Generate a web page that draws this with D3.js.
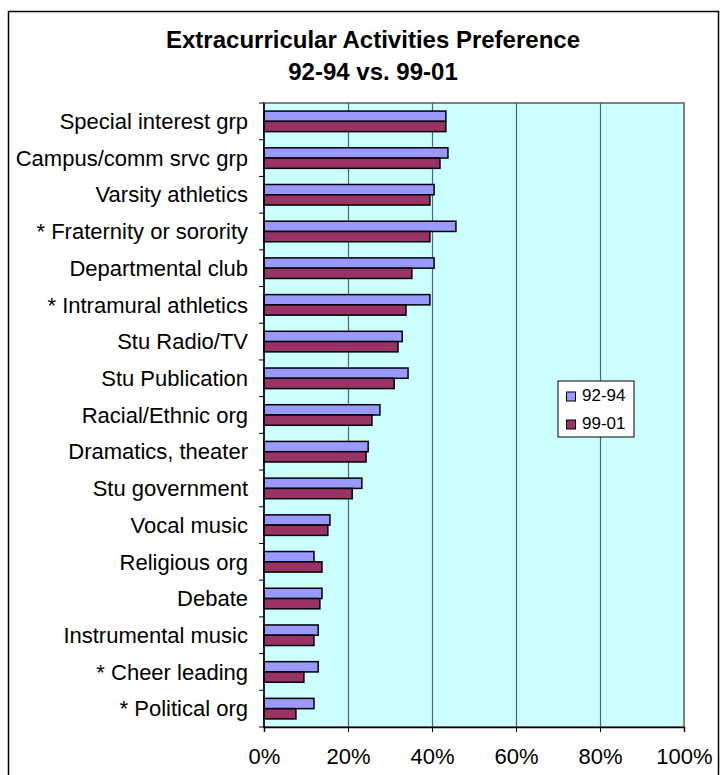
<!DOCTYPE html>
<html>
<head>
<meta charset="utf-8">
<script src="https://cdn.jsdelivr.net/npm/d3@7"></script>
<style>
  body { margin: 0; background: #fff; }
  svg text { font-family: "Liberation Sans", Arial, sans-serif; }
</style>
</head>
<body>
<div id="chart"></div>
<script>
const categories = [
  "Special interest grp", "Campus/comm srvc grp", "Varsity athletics",
  "* Fraternity or sorority", "Departmental club", "* Intramural athletics",
  "Stu Radio/TV", "Stu Publication", "Racial/Ethnic org", "Dramatics, theater",
  "Stu government", "Vocal music", "Religious org", "Debate",
  "Instrumental music", "* Cheer leading", "* Political org"
];
const series = ["92-94", "99-01"];
const v9294 = [43.3, 43.8, 40.5, 45.7, 40.5, 39.5, 32.9, 34.3, 27.6, 24.8, 23.3, 15.7, 11.9, 13.8, 12.9, 12.9, 11.9];
const v9901 = [43.3, 41.9, 39.5, 39.5, 35.2, 33.8, 31.9, 31.0, 25.7, 24.3, 21.0, 15.2, 13.8, 13.3, 11.9, 9.5, 7.6];
const xTicks = [0, 20, 40, 60, 80, 100];
const colors = ["#9999FF", "#993366"];

const W = 728, H = 775;
const pLeft = 264, pRight = 684, pTop = 103, pBottom = 727;

const svg = d3.select("#chart").append("svg")
  .attr("width", W).attr("height", H);

// outer frame
svg.append("rect")
  .attr("x", 8.5).attr("y", 11.5)
  .attr("width", 710).attr("height", 800)
  .attr("fill", "none").attr("stroke", "#000").attr("stroke-width", 1.5);

// title
svg.append("text").attr("x", 373).attr("y", 48)
  .attr("text-anchor", "middle").style("font-size", "24px").style("font-weight", "bold")
  .text("Extracurricular Activities Preference");
svg.append("text").attr("x", 373).attr("y", 80)
  .attr("text-anchor", "middle").style("font-size", "24px").style("font-weight", "bold")
  .text("92-94 vs. 99-01");

const x = d3.scaleLinear().domain([0, 100]).range([pLeft, pRight]);

const pad = 0.44;
const y = d3.scaleBand().domain(categories).range([pTop, pBottom])
  .paddingInner(pad).paddingOuter(pad / 2);
const ySub = d3.scaleBand().domain(series).range([0, y.bandwidth()]);

// plot background
svg.append("rect")
  .attr("x", pLeft).attr("y", pTop)
  .attr("width", pRight - pLeft).attr("height", pBottom - pTop)
  .attr("fill", "#CCFFFF").attr("stroke", "#808080").attr("stroke-width", 2);

// gridlines
svg.append("g")
  .attr("transform", `translate(0,${pBottom})`)
  .call(d3.axisBottom(x).tickValues(xTicks.slice(1, -1)).tickSize(-(pBottom - pTop)).tickFormat(""))
  .call(g => g.select(".domain").remove())
  .call(g => g.selectAll("line").attr("stroke", "#4d6666").attr("stroke-width", 1.2));

// bars
const rows = categories.map((c, i) => ({ cat: c, vals: [v9294[i], v9901[i]] }));
const grp = svg.append("g").selectAll("g").data(rows).join("g")
  .attr("transform", d => `translate(0,${y(d.cat)})`);
grp.selectAll("rect").data(d => d.vals.map((v, k) => ({ v, s: series[k], k })))
  .join("rect")
  .attr("x", x(0))
  .attr("y", d => ySub(d.s))
  .attr("width", d => x(d.v) - x(0))
  .attr("height", ySub.bandwidth())
  .attr("fill", d => colors[d.k])
  .attr("stroke", "#000").attr("stroke-width", 1.5);

// y axis with ticks at category boundaries
const step = y.step();
const bounds = categories.map(c => y(c) - step * pad / 2).concat([pBottom]);
const yAxis = svg.append("g");
yAxis.append("line").attr("x1", pLeft).attr("x2", pLeft).attr("y1", pTop).attr("y2", pBottom)
  .attr("stroke", "#000").attr("stroke-width", 1.5);
yAxis.selectAll("line.tk").data(bounds).join("line").attr("class", "tk")
  .attr("x1", pLeft - 5).attr("x2", pLeft).attr("y1", d => d).attr("y2", d => d)
  .attr("stroke", "#000").attr("stroke-width", 1);
yAxis.selectAll("text").data(categories).join("text")
  .attr("x", 248).attr("y", d => y(d) + y.bandwidth() / 2)
  .attr("dy", "0.35em").attr("text-anchor", "end")
  .style("font-size", "22px").attr("fill", "#000")
  .text(d => d);

// x axis
svg.append("g")
  .attr("transform", `translate(0,${pBottom})`)
  .call(d3.axisBottom(x).tickValues(xTicks).tickSize(5).tickPadding(16).tickFormat(d => d + "%"))
  .call(g => g.select(".domain").attr("stroke", "#000").attr("stroke-width", 1.5))
  .call(g => g.selectAll("text").style("font-size", "22px").attr("fill", "#000")
    .style("font-family", "'Liberation Sans', Arial, sans-serif"));

// legend
const lg = svg.append("g").attr("transform", "translate(558,381)");
lg.append("rect").attr("width", 76).attr("height", 56)
  .attr("fill", "#fff").attr("stroke", "#000").attr("stroke-width", 1);
series.forEach((s, i) => {
  lg.append("rect").attr("x", 8.5).attr("y", 11 + i * 28).attr("width", 9).attr("height", 9)
    .attr("fill", colors[i]).attr("stroke", "#000").attr("stroke-width", 1);
  lg.append("text").attr("x", 24).attr("y", 20 + i * 28)
    .style("font-size", "17px").text(s);
});
</script>
</body>
</html>
